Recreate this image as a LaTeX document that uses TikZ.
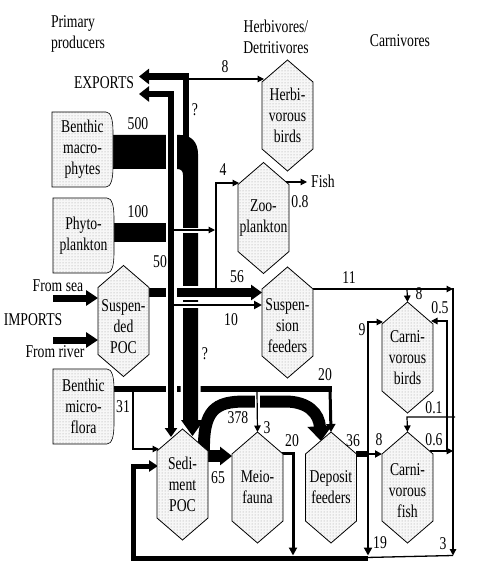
\documentclass[tikz,border=0pt]{standalone}
\usepackage{fontspec}
\setmainfont{Liberation Serif}[FakeStretch=0.76]
\usetikzlibrary{arrows.meta,patterns}
\pgfdeclarelayer{front}
\pgfsetlayers{main,front}
\tikzset{
 txt/.style={font=\fontsize{18}{21}\selectfont, align=center, inner sep=0pt, outer sep=0pt},
 lbl/.style={font=\fontsize{18}{21}\selectfont, inner sep=0.5pt},
 shapestyle/.style={preaction={fill=black!3}, pattern=dots, pattern color=black!40, draw=black, line width=0.8pt},
 hexnode/.style={minimum width=51pt, minimum height=111pt, inner sep=0pt, outer sep=0pt},
 boxnode/.style={minimum width=61pt, minimum height=75pt, inner sep=0pt, outer sep=0pt},
 thinarr/.style={line width=1.2pt, -{Triangle[length=6.5pt,width=6.5pt]}},
}
\newcommand\hexa[5][0pt]{%
  \node[hexnode] (#2) at (#3,#4) {};
  \path[shapestyle] (#2.north) -- ([yshift=-22pt]#2.north east) -- ([yshift=22pt]#2.south east)
     -- (#2.south) -- ([yshift=22pt]#2.south west) -- ([yshift=-22pt]#2.north west) -- cycle;
  \node[txt] (#2-t) at ([yshift=#1]#2.center) {#5};
}
\newcommand\pbox[4]{%
  \node[boxnode] (#1) at ({#2+30.5},{#3+37.5}) {};
  \path[shapestyle, line width=0.6pt] (#1.north west) -- ([xshift=-7pt]#1.north east)
     .. controls ([xshift=-2pt]#1.north east) and ([yshift=-8pt]#1.north east) .. ([yshift=-20pt]#1.north east)
     -- ([yshift=20pt]#1.south east)
     .. controls ([yshift=8pt]#1.south east) and ([xshift=-2pt]#1.south east) .. ([xshift=-7pt]#1.south east)
     -- (#1.south west) -- cycle;
  \node[txt] (#1-t) at (#1.center) {#4};
}
\begin{document}
\begin{tikzpicture}[x=1pt,y=-1pt]
\useasboundingbox (0,0) rectangle (479,569);
\begin{pgfonlayer}{front}
 \pbox{macro}{52}{112}{Benthic\\macro-\\phytes}
 \pbox{phyto}{53}{198}{Phyto-\\plankton}
 \pbox{micro}{53}{369}{Benthic\\micro-\\flora}
 \hexa{herb}{287.5}{115.5}{Herbi-\\vorous\\birds}
 \hexa{zoo}{263.5}{218}{Zoo-\\plankton}
 \hexa[-3pt]{susp}{287.5}{322.5}{Suspen-\\sion\\feeders}
 \hexa[-6pt]{spoc}{123.5}{321}{Suspen-\\ded\\POC}
 \hexa{sed}{182.5}{484.5}{Sedi-\\ment\\POC}
 \hexa{meio}{257.5}{487.5}{Meio-\\fauna}
 \hexa{dep}{331}{487.5}{Deposit\\feeders}
 \hexa[-3pt]{cfish}{407.5}{487.5}{Carni-\\vorous\\fish}
 \hexa{cbird}{407.5}{357.5}{Carni-\\vorous\\birds}
 % headings and labels
 \node[txt, align=left, anchor=west] (hdrP) at (51,34) {Primary\\producers};
 \node[txt] (hdrH) at (276,37) {Herbivores/\\Detritivores};
 \node[txt] (hdrC) at (400,41) {Carnivores};
 \node[lbl] (exp) at (104,83) {EXPORTS};
 \node[lbl] (imp) at (33,320) {IMPORTS};
 \node[lbl] (sea) at (58,286) {From sea};
 \node[lbl] (river) at (55,352) {From river};
 \node[lbl] (l8a) at (225,67) {8};
 \node[lbl] (lq1) at (195,110) {?};
 \node[lbl] (l500) at (138,124) {500};
 \node[lbl] (l4) at (223,170) {4};
 \node[lbl] (lfish) at (323,181) {Fish};
 \node[lbl] (l08) at (300,202) {0.8};
 \node[lbl] (l100) at (138,212) {100};
 \node[lbl] (l50) at (160,262) {50};
 \node[lbl] (l56) at (237,277) {56};
 \node[lbl] (l10) at (231,320) {10};
 \node[lbl] (l11) at (349,278) {11};
 \node[lbl] (l8b) at (419,294) {8};
 \node[lbl] (l05) at (440,308) {0.5};
 \node[lbl] (l9) at (362,330) {9};
 \node[lbl] (lq2) at (205,354) {?};
 \node[lbl] (l20a) at (325,375) {20};
 \node[lbl] (l31) at (123,407) {31};
 \node[lbl] (l01) at (434,408) {0.1};
 \node[lbl, fill=white, inner sep=1.5pt] (l378) at (238,418) {378};
 \node[lbl] (l3a) at (267,428) {3};
 \node[lbl] (l20b) at (292,441) {20};
 \node[lbl] (l36) at (353,441) {36};
 \node[lbl] (l8c) at (379,440) {8};
 \node[lbl] (l06) at (434,440) {0.6};
 \node[lbl] (l65) at (218,478) {65};
 \node[lbl] (l19) at (380,543) {19};
 \node[lbl] (l3b) at (443,544) {3};
\end{pgfonlayer}

% benthic microflora outputs
\draw[line width=5.5pt] (108,389) -- (331.5,389);
\draw[line width=3pt, -{Triangle[length=8pt,width=9pt]}] (330,389) -- (dep.north);
\draw[thinarr] (133,391) -- (133,449) -- (159,449);
% benthic macrophytes band (500) down to sediment POC
\fill[preaction={draw=white, line width=5pt}] (105,135) -- (180,135) .. controls (191,135) and (198,142) .. (198,154)
   -- (198,420) -- (204,420) -- (192.5,436) -- (181,420) -- (183,420) -- (183,175)
   .. controls (183,171) and (181,169) .. (177,169) -- (105,169) -- cycle;
% export ? and herbivorous birds
\draw[line width=6.5pt, -{Triangle[length=10pt,width=15pt]}] (186,138) -- (186,76.5) -- (139,76.5);
\draw[thinarr] (189,79) -- (264,79);
% phytoplankton band
\draw[line width=19pt] (110,232.5) -- (171,232.5);
% suspended POC output (56)
\draw[white, line width=14pt] (178,292.5) -- (248,292.5);
\draw[line width=9pt, -{Triangle[length=11pt,width=15pt]}] (149,292.5) -- (262,292.5);
% V1 line: exports and down to sediment POC
\draw[white, line width=11pt] (171,100) -- (171,425);
\draw[line width=6pt, {Triangle[length=10pt,width=15pt]}-{Triangle[length=9pt,width=12pt]}] (139,94) -- (171,94) -- (171,437);
% 10 and phyto to zooplankton
\draw[white, line width=6pt] (177,305) -- (255,305);
\draw[line width=2.5pt, -{Triangle[length=8pt,width=8pt]}] (174,305) -- (262,305);
\draw[white, line width=5pt] (177,230) -- (208,230);
\draw[thinarr] (174,230) -- (215,230);
\draw[thinarr] (216,291) -- (216,183) -- (239,183);
\draw[thinarr] (286,182) -- (307,182);
% imports
\draw[line width=7pt, -{Triangle[length=12pt,width=15pt]}] (53,298) -- (98,298);
\draw[line width=7pt, -{Triangle[length=12pt,width=15pt]}] (53,340) -- (98,340);
% sediment POC outputs
\draw[line width=12pt, -{Triangle[length=15pt,width=24pt]}] (204,452) .. controls (203,410) and (215,401.5) .. (245,401.5)
   -- (285,401.5) .. controls (309,401.5) and (319,414) .. (321,441);
\draw[white, line width=5pt] (257,393) -- (257,420);
\draw[thinarr] (257,391.5) -- (meio.north);
\draw[line width=12pt, -{Triangle[length=12pt,width=18pt]}] (205,456) -- (232,456);
% returns to sediment
\draw[line width=3pt, -{Triangle[length=8pt,width=8pt]}] (282,453) -- (293,453) -- (293,555.5);
\draw[line width=5pt, -{Triangle[length=9pt,width=11pt]}] (368,558) -- (133,558) -- (133,466) -- (158,466);
\draw[line width=1.3pt] (453,555.5) -- (366,557.5);
% deposit feeders outputs
\draw[line width=5.5pt] (356,454) -- (369,454);
\draw[line width=2pt, -{Triangle[length=7pt,width=7pt]}] (366,454) -- (cfish.west |- 0,454);
\draw[line width=2.5pt, -{Triangle[length=8pt,width=8pt]}] (368,454) -- (368,555.5);
\draw[thinarr] (368,454) -- (368,322) -- (383,322);
% suspension feeders (11) and carnivores
\draw[thinarr] (313,289) -- (453,289);
\draw[thinarr] (407,289) -- (cbird.north);
\draw[thinarr] (453,288) -- (453,555.5);
\draw[thinarr] (447,451) -- (447,321) -- (431,321);
\draw[thinarr] (430,451) -- (453,451);
\draw[thinarr] (455,417) -- (407,417) -- (cfish.north);
\end{tikzpicture}
\end{document}
